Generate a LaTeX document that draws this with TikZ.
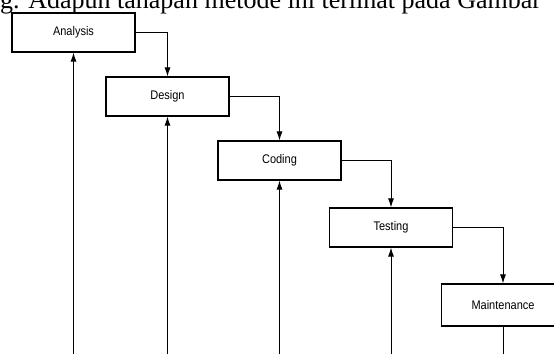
\documentclass[tikz,border=0pt]{standalone}
\usepackage{fontspec}
\setmainfont{Liberation Serif}
\newfontfamily\boxfont[FakeStretch=0.88]{Liberation Sans}
\usetikzlibrary{arrows.meta, positioning}

\begin{document}
\begin{tikzpicture}[x=1pt, y=-1pt,
  phase/.style={draw, line width=1.2pt, minimum width=123pt, minimum height=39pt, inner sep=0pt, font=\boxfont\fontsize{12.5}{14}\selectfont},
  arr/.style={-{Latex[length=9pt, width=6pt]}, line width=0.9pt},
  ln/.style={line width=0.9pt},
]
  \useasboundingbox (0,0) rectangle (554,354);
  \clip (0,0) rectangle (554,354);
  \fill[white] (0,0) rectangle (554,354);
  \node[anchor=base west, font=\fontsize{26}{30}\selectfont, inner sep=0pt] (intro) at (0,8) {g. Adapun tahapan metode ini terlihat pada Gambar};
  \node[phase] (analysis) at (73.5,32.5) {Analysis};
  \node[phase] (design) at (167.5,96.5) {Design};
  \node[phase] (coding) at (279.5,160.5) {Coding};
  \node[phase] (testing) at (391,227.5) {Testing};
  \node[phase, minimum height=42pt] (maint) at (503,305) {Maintenance};
  % downward flow
  \draw[arr] (analysis.east) -| (design.north);
  \draw[arr] (design.east) -| (coding.north);
  \draw[arr] (coding.east) -| (testing.north);
  \draw[arr] (testing.east) -| (maint.north);
  % feedback lines from the bottom
  \coordinate (fa) at (73.5,354);
  \coordinate (fd) at (167.5,354);
  \coordinate (fc) at (279.5,354);
  \coordinate (ft) at (391,354);
  \coordinate (fm) at (503,354);
  \draw[arr] (fa) -- (analysis.south);
  \draw[arr] (fd) -- (design.south);
  \draw[arr] (fc) -- (coding.south);
  \draw[arr] (ft) -- (testing.south);
  \draw[ln] (maint.south) -- (fm);
\end{tikzpicture}
\end{document}
